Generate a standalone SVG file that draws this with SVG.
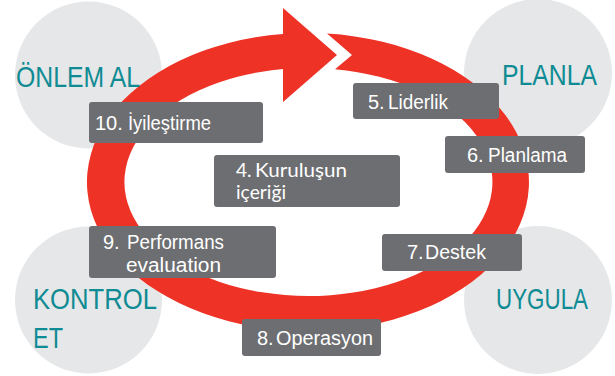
<svg xmlns="http://www.w3.org/2000/svg" width="615" height="376" viewBox="0 0 615 376">
<style>
.circ{fill:#e6e7e8}
.lbl{fill:#0e8b93;font-family:"Liberation Sans",Arial,sans-serif;font-size:29px}
.box{fill:#6d6e71}
.t{fill:#ffffff;font-family:"Liberation Sans",Arial,sans-serif;font-size:20px}
.t4{fill:#ffffff;font-family:Lato,"Liberation Sans",sans-serif;font-size:19px}
.ring{fill:#ee3226}
</style>
<rect width="615" height="376" fill="#ffffff"/>
<g id="circle-onlem"><circle class="circ" cx="88.5" cy="75" r="73.5"/></g>
<g id="circle-planla"><circle class="circ" cx="538" cy="73" r="74"/></g>
<g id="circle-kontrol"><circle class="circ" cx="88.5" cy="300" r="73.5"/></g>
<g id="circle-uygula"><circle class="circ" cx="538" cy="300" r="74"/></g>
<g id="connectors">
<path class="ring" d="M327,33.6 A221,149 0 1 1 283,34 L283,8 L337,55 L283,102 L283,69.1 A184,114 0 1 0 335,69.2 L352,55 Z"/>
</g>
<g id="label-onlem"><text class="lbl" x="16" y="87" textLength="124" lengthAdjust="spacingAndGlyphs">ÖNLEM AL</text></g>
<g id="label-planla"><text class="lbl" x="502" y="85" textLength="95" lengthAdjust="spacingAndGlyphs">PLANLA</text></g>
<g id="label-kontrol"><text class="lbl" x="33" y="309" textLength="124" lengthAdjust="spacingAndGlyphs">KONTROL</text><text class="lbl" x="33" y="348" textLength="30" lengthAdjust="spacingAndGlyphs">ET</text></g>
<g id="label-uygula"><text class="lbl" x="496" y="309" textLength="92" lengthAdjust="spacingAndGlyphs">UYGULA</text></g>
<g id="node-10"><rect class="box" x="89" y="102" width="174" height="41" rx="3"/><text class="t" y="129.5"><tspan x="95">10.</tspan><tspan x="128" textLength="83" lengthAdjust="spacingAndGlyphs">İyileştirme</tspan></text></g>
<g id="node-4"><rect class="box" x="214" y="155" width="186" height="52" rx="3"/><text class="t4" y="177"><tspan x="236">4.</tspan><tspan x="255" textLength="92" lengthAdjust="spacingAndGlyphs">Kuruluşun</tspan></text><text class="t4" x="236" y="199" textLength="50" lengthAdjust="spacingAndGlyphs">içeriği</text></g>
<g id="node-5"><rect class="box" x="353" y="83" width="146" height="36" rx="3"/><text class="t" y="109"><tspan x="368">5.</tspan><tspan x="388" textLength="60" lengthAdjust="spacingAndGlyphs">Liderlik</tspan></text></g>
<g id="node-6"><rect class="box" x="445" y="136" width="140" height="37" rx="3"/><text class="t" y="162"><tspan x="467">6.</tspan><tspan x="488" textLength="79" lengthAdjust="spacingAndGlyphs">Planlama</tspan></text></g>
<g id="node-9"><rect class="box" x="89" y="226" width="187" height="52" rx="3"/><text class="t" y="249"><tspan x="103">9.</tspan><tspan x="127" textLength="97" lengthAdjust="spacingAndGlyphs">Performans</tspan></text><text class="t" x="126" y="272" textLength="95" lengthAdjust="spacingAndGlyphs">evaluation</text></g>
<g id="node-7"><rect class="box" x="382" y="234" width="140" height="37" rx="3"/><text class="t" y="259"><tspan x="407">7.</tspan><tspan x="425" textLength="61" lengthAdjust="spacingAndGlyphs">Destek</tspan></text></g>
<g id="node-8"><rect class="box" x="242" y="319" width="139" height="37" rx="3"/><text class="t" y="345"><tspan x="257">8.</tspan><tspan x="276" textLength="97" lengthAdjust="spacingAndGlyphs">Operasyon</tspan></text></g>
</svg>
